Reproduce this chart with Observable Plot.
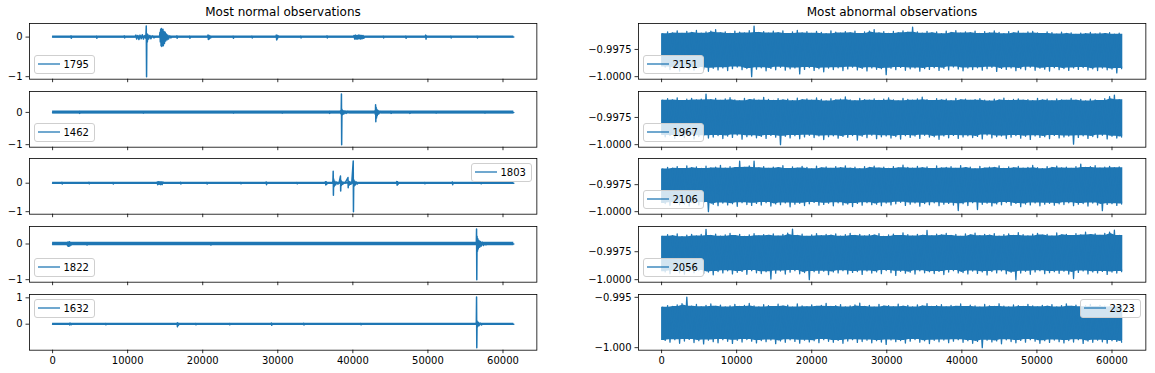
<!DOCTYPE html>
<html><head><meta charset="utf-8">
<script src="https://cdn.jsdelivr.net/npm/d3@7"></script>
<script src="https://cdn.jsdelivr.net/npm/@observablehq/plot@0.6"></script>
<style>
body{margin:0;background:#fff;}
#fig{position:relative;width:1155px;height:373px;font-family:"DejaVu Sans",sans-serif;overflow:hidden;background:#fff}
.title{position:absolute;font-size:12px;line-height:15px;text-align:center;color:#000;white-space:nowrap}
.legend{position:absolute;box-sizing:border-box;height:19px;border:1px solid #cfcfcf;border-radius:3px;background:rgba(255,255,255,0.8);font-size:10px;line-height:17px;color:#000;padding:0 5px 0 28.5px;white-space:nowrap}
.legend svg{position:absolute;left:2px;top:0}
</style></head>
<body><div id="fig"></div>
<script>
// ---------------- data ----------------
const sampleCount = 61440;
const xTicks = [0, 10000, 20000, 30000, 40000, 50000, 60000];
const xTickLabels = ["0", "10000", "20000", "30000", "40000", "50000", "60000"];
const titles = ["Most normal observations", "Most abnormal observations"];

const normalIds = ["1795", "1462", "1803", "1822", "1632"];
const abnormalIds = ["2151", "1967", "2106", "2056", "2323"];

// sparse reading of each normal signal: [sample index, value]
const normal1795 = [
[0,0],[2400,0],[2450,0.03],[2500,-0.03],[2550,0],[5800,0],[5850,0.02],[5900,-0.03],[5950,0],
[9500,0],[9550,0.03],[9600,-0.02],[9650,0],
[11000,0],[11100,0.05],[11200,-0.05],[11350,0.04],[11500,-0.06],[11650,0.05],[11800,-0.04],[11950,0.06],[12100,-0.05],[12300,0.04],[12420,-0.03],
[12480,0.28],[12520,-1.0],[12560,0.09],[12620,-0.12],[12700,0.06],[12800,-0.05],[12950,0.04],[13100,-0.04],[13300,0.03],[13500,-0.02],[13700,0],
[14250,0],[14300,0.12],[14350,-0.12],[14400,0.2],[14450,-0.22],[14500,0.22],[14550,-0.24],[14600,0.18],[14650,-0.2],[14700,0.2],[14750,-0.22],[14850,0.14],[14900,-0.16],[15000,0.12],[15050,-0.1],[15150,0.08],[15250,-0.07],[15350,0.05],[15450,-0.05],[15600,0.03],[15750,-0.02],[15900,0],
[16500,0],[16550,0.03],[16600,-0.03],[16650,0],[18200,0],[18250,0.02],[18300,-0.03],[18350,0],
[20650,0],[20700,0.05],[20750,-0.06],[20800,0.05],[20850,-0.05],[20950,0.03],[21050,-0.02],[21150,0],
[24000,0],[24050,0.02],[24100,-0.03],[24150,0],[26500,0],[26550,0.02],[26600,-0.02],[26650,0],
[29750,0],[29800,0.05],[29850,-0.07],[29900,0.05],[29950,-0.04],[30050,0.03],[30150,0],
[33000,0],[33050,0.02],[33100,-0.02],[33150,0],[36500,0],[36550,0.03],[36600,-0.02],[36650,0],
[40100,0],[40150,0.04],[40250,-0.05],[40350,0.05],[40450,-0.05],[40550,0.04],[40650,-0.05],[40750,0.05],[40850,-0.04],[40950,0.05],[41050,-0.05],[41150,0.04],[41250,-0.04],[41350,0.04],[41450,-0.03],[41550,0],
[44000,0],[44050,0.02],[44100,-0.02],[44150,0],[47000,0],[47050,0.02],[47100,-0.03],[47150,0],
[49650,0],[49700,0.05],[49750,-0.05],[49800,0.03],[49850,0],
[53000,0],[53050,0.02],[53100,-0.02],[53150,0],[56500,0],[56550,0.02],[56600,-0.02],[56650,0],
[61440,0]
];
const normal1462 = [
[0,0],[3500,0],[3550,0.03],[3600,-0.03],[3650,0],[12000,0],[12050,0.02],[12100,-0.02],[12150,0],
[24000,0],[24050,0.02],[24100,-0.02],[24150,0],[30500,0],[30550,0.02],[30600,-0.02],[30650,0],
[36800,0],[36850,0.03],[36900,-0.03],[36950,0],
[38300,0],[38350,0.04],[38400,-0.04],[38450,0.05],[38480,0.57],[38510,-1.0],[38550,0.1],[38600,-0.08],[38700,0.05],[38800,-0.05],[38950,0.04],[39100,-0.03],[39300,0.03],[39500,0],
[42900,0],[42950,0.05],[43000,-0.06],[43030,0.24],[43060,-0.29],[43100,0.16],[43150,-0.17],[43200,0.1],[43250,-0.1],[43350,0.06],[43450,-0.05],[43600,0.03],[43750,0],
[45000,0],[45050,0.03],[45100,-0.03],[45150,0],[47500,0],[47550,0.02],[47600,-0.03],[47650,0],
[51000,0],[51050,0.02],[51100,-0.02],[51150,0],[57500,0],[57550,0.02],[57600,-0.02],[57650,0],
[61440,0]
];
const normal1803 = [
[0,0],[1200,0],[1250,0.03],[1300,-0.03],[1350,0],[4800,0],[4850,0.03],[4900,-0.02],[4950,0],
[8000,0],[8050,0.02],[8100,-0.03],[8150,0],
[13900,0],[13950,0.04],[14000,-0.05],[14100,0.05],[14200,-0.04],[14300,0.05],[14400,-0.05],[14500,0.04],[14600,-0.05],[14700,0.04],[14800,0],
[17000,0],[17050,0.03],[17100,-0.03],[17150,0],[20500,0],[20550,0.02],[20600,-0.03],[20650,0],
[25000,0],[25050,0.02],[25100,-0.02],[25150,0],
[28400,0],[28450,0.04],[28500,-0.05],[28550,0],[32500,0],[32550,0.02],[32600,-0.02],[32650,0],
[36300,0],[36350,0.05],[36400,-0.06],[36450,0.05],[36500,-0.04],[36600,0],
[37300,0],[37350,0.1],[37380,0.42],[37410,-0.42],[37450,0.15],[37500,-0.12],[37600,0.07],[37700,-0.06],[37850,0.04],[38000,-0.03],[38150,0],
[38350,0.25],[38380,-0.27],[38420,0.1],[38480,-0.08],[38550,0.05],[38650,-0.04],[38800,0.03],[38950,0],
[39350,0.2],[39380,-0.16],[39420,0.08],[39500,-0.07],[39600,0.05],[39700,-0.04],[39850,0],
[40050,0.78],[40080,-1.0],[40120,0.12],[40170,-0.1],[40250,0.07],[40350,-0.06],[40450,0.04],[40600,-0.03],[40750,0.02],[40900,0],
[45800,0],[45850,0.06],[45900,-0.07],[45950,0.05],[46000,-0.04],[46100,0],
[49500,0],[49550,0.02],[49600,-0.02],[49650,0],
[53200,0],[53250,0.04],[53300,-0.05],[53350,0],[57000,0],[57050,0.02],[57100,-0.02],[57150,0],
[61440,0]
];
const normal1822 = [
[0,0],[1900,0],[1950,0.04],[2000,-0.05],[2050,0.05],[2100,-0.06],[2150,0.05],[2200,-0.06],[2250,0.06],[2300,-0.05],[2350,0.04],[2450,-0.03],[2550,0],
[4500,0],[4550,0.02],[4600,-0.03],[4650,0],[21000,0],[21050,0.03],[21100,-0.03],[21150,0],
[56400,0],[56450,0.05],[56480,0.42],[56510,-1.0],[56550,0.22],[56600,-0.2],[56650,0.15],[56700,-0.14],[56800,0.1],[56900,-0.09],[57000,0.07],[57100,-0.06],[57250,0.05],[57400,-0.04],[57550,0.03],[57700,-0.02],[57900,0],
[61440,0]
];
const normal1632 = [
[0,0],[2200,0],[2250,0.03],[2300,-0.03],[2400,0.03],[2500,-0.02],[2600,0],
[7000,0],[7050,0.02],[7100,-0.02],[7150,0],
[16550,0],[16600,0.04],[16630,-0.1],[16680,0.05],[16750,-0.04],[16850,0],
[19000,0],[19050,0.02],[19100,-0.02],[19150,0],[23500,0],[23550,0.02],[23600,-0.02],[23650,0],
[29100,0],[29150,0.04],[29200,-0.04],[29250,0],[33400,0],[33450,0.03],[33500,-0.03],[33550,0],
[41000,0],[41050,0.02],[41100,-0.02],[41150,0],
[56400,0],[56450,0.08],[56480,1.03],[56510,-0.89],[56550,0.12],[56600,-0.1],[56700,0.07],[56800,-0.06],[56950,0.04],[57100,-0.03],[57300,0],
[61440,0]
];
const normalSeries = [normal1795, normal1462, normal1803, normal1822, normal1632];
const normalNoise = [0.025, 0.046, 0.035, 0.046, 0.038];
const normalYTicks = [[-1, 0], [-1, 0], [-1, 0], [-1, 0], [0, 1]];
const normalYTickLabels = [["−1", "0"], ["−1", "0"], ["−1", "0"], ["−1", "0"], ["0", "1"]];

// abnormal signals: per-bin upper and lower extremes (96 bins over the samples)
const abnormalHi2151 = [
-0.99606,-0.99588,-0.99598,-0.99579,-0.99602,-0.99585,-0.99594,-0.99576,-0.99601,-0.99590,-0.99583,-0.99569,
-0.99597,-0.99588,-0.99603,-0.99581,-0.99592,-0.99599,-0.99578,-0.99535,-0.99594,-0.99586,-0.99600,-0.99583,
-0.99596,-0.99580,-0.99604,-0.99589,-0.99575,-0.99598,-0.99587,-0.99602,-0.99584,-0.99593,-0.99606,-0.99579,
-0.99591,-0.99600,-0.99586,-0.99597,-0.99583,-0.99604,-0.99590,-0.99581,-0.99568,-0.99598,-0.99587,-0.99603,
-0.99585,-0.99596,-0.99579,-0.99592,-0.99545,-0.99589,-0.99601,-0.99584,-0.99597,-0.99588,-0.99605,-0.99582,
-0.99594,-0.99578,-0.99600,-0.99589,-0.99596,-0.99583,-0.99603,-0.99587,-0.99599,-0.99580,-0.99593,-0.99606,
-0.99586,-0.99597,-0.99581,-0.99602,-0.99590,-0.99585,-0.99598,-0.99604,-0.99588,-0.99595,-0.99609,-0.99592,
-0.99603,-0.99597,-0.99611,-0.99600,-0.99606,-0.99594,-0.99608,-0.99599,-0.99604,-0.99596,-0.99610,-0.99601
];
const abnormalLo2151 = [
-0.99912,-0.99935,-0.99921,-0.99948,-0.99917,-0.99929,-0.99940,-0.99915,-0.99932,-0.99951,-0.99923,-0.99938,
-0.99919,-0.99944,-0.99927,-0.99912,-0.99936,-0.99925,-1.00000,-0.99931,-0.99918,-0.99946,-0.99924,-0.99937,
-0.99914,-0.99940,-0.99928,-0.99920,-0.99975,-0.99933,-0.99916,-0.99942,-0.99926,-0.99955,-0.99921,-0.99935,
-0.99918,-0.99944,-0.99929,-0.99913,-0.99938,-0.99924,-0.99947,-0.99919,-0.99932,-0.99927,-0.99982,-0.99922,
-0.99936,-0.99915,-0.99941,-0.99928,-0.99920,-0.99949,-0.99925,-0.99934,-0.99917,-0.99943,-0.99923,-0.99938,
-0.99911,-0.99930,-0.99946,-0.99921,-0.99935,-0.99918,-0.99940,-0.99927,-0.99914,-0.99952,-0.99924,-0.99933,
-0.99919,-0.99945,-0.99926,-0.99937,-0.99913,-0.99941,-0.99922,-0.99931,-0.99948,-0.99917,-0.99936,-0.99925,
-0.99942,-0.99920,-0.99934,-0.99916,-0.99939,-0.99928,-0.99944,-0.99921,-0.99937,-0.99930,-0.99965,-0.99926
];
const abnormalHi1967 = [
-0.99592,-0.99578,-0.99589,-0.99570,-0.99595,-0.99583,-0.99574,-0.99590,-0.99581,-0.99535,-0.99587,-0.99576,
-0.99593,-0.99580,-0.99569,-0.99588,-0.99597,-0.99575,-0.99586,-0.99579,-0.99591,-0.99566,-0.99584,-0.99594,
-0.99577,-0.99589,-0.99582,-0.99596,-0.99573,-0.99587,-0.99580,-0.99592,-0.99571,-0.99585,-0.99598,-0.99578,
-0.99590,-0.99583,-0.99562,-0.99588,-0.99596,-0.99575,-0.99586,-0.99591,-0.99579,-0.99594,-0.99582,-0.99570,
-0.99589,-0.99597,-0.99576,-0.99585,-0.99592,-0.99580,-0.99564,-0.99587,-0.99595,-0.99578,-0.99590,-0.99583,
-0.99596,-0.99574,-0.99588,-0.99581,-0.99593,-0.99586,-0.99577,-0.99591,-0.99598,-0.99582,-0.99589,-0.99572,
-0.99594,-0.99585,-0.99579,-0.99592,-0.99587,-0.99596,-0.99575,-0.99590,-0.99583,-0.99597,-0.99580,-0.99588,
-0.99593,-0.99576,-0.99591,-0.99584,-0.99599,-0.99581,-0.99589,-0.99595,-0.99578,-0.99560,-0.99545,-0.99587
];
const abnormalLo1967 = [
-0.99928,-0.99915,-0.99941,-0.99922,-0.99936,-0.99913,-0.99947,-0.99925,-0.99918,-0.99939,-0.99930,-0.99916,
-0.99944,-0.99921,-0.99933,-0.99912,-0.99950,-0.99926,-0.99919,-0.99937,-0.99924,-0.99942,-0.99915,-0.99931,
-1.00000,-0.99923,-0.99938,-0.99917,-0.99946,-0.99929,-0.99914,-0.99935,-0.99920,-0.99953,-0.99927,-0.99918,
-0.99940,-0.99924,-0.99932,-0.99916,-0.99958,-0.99922,-0.99936,-0.99913,-0.99945,-0.99928,-0.99919,-0.99939,
-0.99925,-0.99948,-0.99917,-0.99933,-0.99921,-0.99942,-0.99914,-0.99930,-0.99926,-0.99951,-0.99920,-0.99937,
-0.99915,-0.99943,-0.99929,-0.99918,-0.99935,-0.99924,-0.99947,-0.99912,-0.99938,-0.99927,-0.99920,-0.99944,
-0.99931,-0.99916,-0.99940,-0.99923,-0.99952,-0.99919,-0.99934,-0.99926,-0.99945,-0.99915,-0.99938,-0.99929,
-0.99921,-0.99995,-0.99933,-0.99918,-0.99942,-0.99925,-0.99936,-0.99914,-0.99947,-0.99922,-0.99939,-0.99930
];
const abnormalHi2106 = [
-0.99605,-0.99590,-0.99598,-0.99582,-0.99601,-0.99576,-0.99593,-0.99586,-0.99600,-0.99579,-0.99595,-0.99588,
-0.99571,-0.99597,-0.99584,-0.99592,-0.99533,-0.99589,-0.99577,-0.99531,-0.99594,-0.99583,-0.99599,-0.99587,
-0.99592,-0.99574,-0.99601,-0.99585,-0.99596,-0.99580,-0.99590,-0.99603,-0.99578,-0.99594,-0.99586,-0.99599,
-0.99582,-0.99593,-0.99575,-0.99597,-0.99588,-0.99602,-0.99584,-0.99591,-0.99579,-0.99596,-0.99587,-0.99600,
-0.99583,-0.99594,-0.99569,-0.99590,-0.99598,-0.99581,-0.99593,-0.99586,-0.99601,-0.99577,-0.99595,-0.99589,
-0.99584,-0.99599,-0.99573,-0.99592,-0.99587,-0.99603,-0.99580,-0.99596,-0.99588,-0.99591,-0.99576,-0.99600,
-0.99585,-0.99594,-0.99581,-0.99597,-0.99589,-0.99572,-0.99593,-0.99602,-0.99583,-0.99590,-0.99578,-0.99595,
-0.99587,-0.99599,-0.99582,-0.99560,-0.99591,-0.99584,-0.99574,-0.99596,-0.99588,-0.99580,-0.99593,-0.99586
];
const abnormalLo2106 = [
-0.99925,-0.99941,-0.99918,-0.99936,-0.99929,-0.99947,-0.99921,-0.99938,-0.99915,-1.00000,-0.99932,-0.99944,
-0.99920,-0.99937,-0.99926,-0.99950,-0.99917,-0.99934,-0.99942,-0.99923,-0.99939,-0.99916,-0.99948,-0.99928,
-0.99935,-0.99919,-0.99955,-0.99931,-0.99922,-0.99943,-0.99927,-0.99914,-0.99940,-0.99933,-0.99921,-0.99946,
-0.99918,-0.99937,-0.99929,-0.99952,-0.99924,-0.99940,-0.99917,-0.99935,-0.99930,-0.99945,-0.99920,-0.99938,
-0.99927,-0.99913,-0.99942,-0.99931,-0.99919,-0.99949,-0.99925,-0.99936,-0.99918,-0.99944,-0.99930,-0.99923,
-0.99939,-0.99990,-0.99926,-0.99943,-0.99917,-0.99980,-0.99932,-0.99921,-0.99947,-0.99928,-0.99936,-0.99915,
-0.99941,-0.99924,-0.99953,-0.99929,-0.99937,-0.99919,-0.99946,-0.99931,-0.99922,-0.99940,-0.99927,-0.99934,
-0.99918,-0.99944,-0.99930,-0.99925,-0.99948,-0.99920,-0.99938,-0.99991,-0.99933,-0.99926,-0.99942,-0.99929
];
const abnormalHi2056 = [
-0.99612,-0.99598,-0.99607,-0.99590,-0.99615,-0.99601,-0.99594,-0.99609,-0.99596,-0.99550,-0.99604,-0.99592,
-0.99611,-0.99599,-0.99587,-0.99606,-0.99595,-0.99613,-0.99600,-0.99589,-0.99608,-0.99597,-0.99603,-0.99591,
-0.99610,-0.99596,-0.99583,-0.99547,-0.99605,-0.99593,-0.99612,-0.99599,-0.99588,-0.99607,-0.99596,-0.99602,
-0.99590,-0.99611,-0.99598,-0.99586,-0.99604,-0.99594,-0.99609,-0.99597,-0.99601,-0.99589,-0.99613,-0.99600,
-0.99592,-0.99606,-0.99581,-0.99598,-0.99610,-0.99595,-0.99603,-0.99560,-0.99608,-0.99593,-0.99600,-0.99587,
-0.99605,-0.99596,-0.99612,-0.99590,-0.99599,-0.99584,-0.99607,-0.99594,-0.99602,-0.99588,-0.99611,-0.99597,
-0.99591,-0.99604,-0.99579,-0.99598,-0.99609,-0.99593,-0.99585,-0.99601,-0.99596,-0.99610,-0.99582,-0.99599,
-0.99594,-0.99606,-0.99588,-0.99600,-0.99576,-0.99597,-0.99590,-0.99603,-0.99586,-0.99574,-0.99558,-0.99605
];
const abnormalLo2056 = [
-0.99930,-0.99946,-0.99922,-0.99939,-0.99951,-0.99925,-0.99937,-0.99918,-0.99944,-0.99932,-0.99956,-0.99927,
-0.99940,-0.99921,-0.99948,-0.99934,-0.99926,-0.99952,-0.99919,-0.99938,-0.99945,-0.99929,-0.99994,-0.99942,
-0.99923,-0.99950,-0.99933,-0.99919,-0.99947,-0.99936,-1.00000,-0.99928,-0.99943,-0.99924,-0.99955,-0.99931,
-0.99939,-0.99920,-0.99948,-0.99935,-0.99927,-0.99953,-0.99922,-0.99941,-0.99930,-0.99946,-0.99918,-0.99937,
-0.99962,-0.99925,-0.99942,-0.99933,-0.99950,-0.99921,-0.99938,-0.99929,-0.99945,-0.99926,-0.99954,-0.99932,
-0.99919,-0.99940,-0.99936,-0.99949,-0.99923,-0.99944,-0.99930,-0.99958,-0.99927,-0.99939,-0.99921,-0.99947,
-0.99934,-1.00000,-0.99941,-0.99925,-0.99952,-0.99931,-0.99920,-0.99946,-0.99937,-0.99928,-0.99943,-0.99924,
-0.99950,-0.99990,-0.99935,-0.99922,-0.99948,-0.99930,-0.99939,-0.99926,-0.99953,-0.99932,-0.99941,-0.99928
];
const abnormalHi2323 = [
-0.99598,-0.99582,-0.99591,-0.99575,-0.99563,-0.99497,-0.99588,-0.99571,-0.99594,-0.99580,-0.99566,-0.99589,
-0.99577,-0.99595,-0.99584,-0.99569,-0.99590,-0.99579,-0.99561,-0.99586,-0.99596,-0.99573,-0.99583,-0.99592,
-0.99568,-0.99587,-0.99578,-0.99597,-0.99565,-0.99585,-0.99593,-0.99574,-0.99589,-0.99581,-0.99560,-0.99590,
-0.99583,-0.99572,-0.99595,-0.99586,-0.99576,-0.99558,-0.99591,-0.99580,-0.99597,-0.99570,-0.99587,-0.99582,
-0.99594,-0.99567,-0.99588,-0.99579,-0.99596,-0.99575,-0.99585,-0.99562,-0.99590,-0.99583,-0.99573,-0.99594,
-0.99581,-0.99589,-0.99566,-0.99592,-0.99578,-0.99586,-0.99597,-0.99571,-0.99584,-0.99591,-0.99564,-0.99587,
-0.99595,-0.99576,-0.99583,-0.99590,-0.99569,-0.99585,-0.99594,-0.99580,-0.99588,-0.99572,-0.99596,-0.99582,
-0.99565,-0.99589,-0.99577,-0.99593,-0.99584,-0.99570,-0.99591,-0.99579,-0.99587,-0.99595,-0.99574,-0.99586
];
const abnormalLo2323 = [
-0.99928,-0.99945,-0.99921,-0.99956,-0.99934,-0.99918,-0.99949,-0.99930,-0.99962,-0.99925,-0.99940,-0.99952,
-0.99920,-0.99937,-0.99958,-0.99927,-0.99944,-0.99919,-0.99935,-0.99953,-0.99929,-0.99941,-0.99924,-0.99960,
-0.99933,-0.99947,-0.99922,-0.99938,-0.99955,-0.99926,-0.99943,-0.99931,-0.99950,-0.99920,-0.99937,-0.99946,
-0.99928,-0.99957,-0.99934,-0.99921,-0.99948,-0.99939,-0.99925,-0.99952,-0.99930,-0.99944,-0.99967,-0.99923,
-0.99940,-0.99929,-0.99954,-0.99936,-0.99919,-0.99946,-0.99932,-0.99959,-0.99927,-0.99942,-0.99924,-0.99950,
-0.99935,-0.99921,-0.99947,-0.99930,-0.99956,-0.99938,-1.00000,-0.99926,-0.99943,-0.99933,-0.99961,-0.99922,
-0.99939,-0.99951,-0.99928,-0.99945,-0.99920,-0.99936,-0.99957,-0.99931,-0.99948,-0.99924,-0.99940,-0.99953,
-0.99929,-0.99944,-0.99921,-0.99958,-0.99934,-0.99947,-0.99926,-0.99942,-0.99955,-0.99930,-0.99938,-0.99946
];
const abnormalHi = [abnormalHi2151, abnormalHi1967, abnormalHi2106, abnormalHi2056, abnormalHi2323];
const abnormalLo = [abnormalLo2151, abnormalLo1967, abnormalLo2106, abnormalLo2056, abnormalLo2323];
const abnormalYTicks = [[-1, -0.9975], [-1, -0.9975], [-1, -0.9975], [-1, -0.9975], [-1, -0.995]];
const abnormalYTickLabels = [["−1.0000", "−0.9975"], ["−1.0000", "−0.9975"], ["−1.0000", "−0.9975"], ["−1.0000", "−0.9975"], ["−1.000", "−0.995"]];

// ---------------- layout ----------------
const BLUE = "#1f77b4";
const W = 507.4, H = 55.7;
const colLeft = [29.3, 638.3];
const rowTop = [23.3, 90.9, 158.4, 226.0, 293.6];
const normalLegendLoc = ["lower left", "lower left", "upper right", "lower left", "upper left"];
const abnormalLegendLoc = ["lower left", "lower left", "lower left", "lower left", "upper right"];

const fig = document.getElementById("fig");
const pad = (lo, hi) => [lo - 0.05 * (hi - lo), hi + 0.05 * (hi - lo)];
const xDomain = pad(0, sampleCount);

function addPanel(left, top, isBottom, yDomain, yTicks, yLabels, marks) {
  const ml = 70, mr = 6, mt = 6, mb = 26;
  const labelOf = new Map(yTicks.map((t, i) => [t, yLabels[i]]));
  const xLabelOf = new Map(xTicks.map((t, i) => [t, xTickLabels[i]]));
  const svg = Plot.plot({
    width: W + ml + mr, height: H + mt + mb,
    marginLeft: ml, marginRight: mr, marginTop: mt, marginBottom: mb,
    style: {fontFamily: "DejaVu Sans", fontSize: "10px", color: "#000", background: "transparent", overflow: "visible"},
    x: {domain: xDomain},
    y: {domain: yDomain},
    marks: [
      ...marks,
      Plot.frame({stroke: "#000", strokeWidth: 0.8}),
      Plot.axisY({ticks: yTicks, tickFormat: d => labelOf.get(d), tickSize: 3.5, tickPadding: 3.5, strokeWidth: 0.8, label: null, fontSize: 10}),
      Plot.axisX({ticks: xTicks, tickFormat: isBottom ? (d => xLabelOf.get(d)) : (() => ""), tickSize: 3.5, tickPadding: 3.5, strokeWidth: 0.8, label: null, fontSize: 10})
    ]
  });
  svg.style.position = "absolute";
  svg.style.left = (left - ml) + "px";
  svg.style.top = (top - mt) + "px";
  fig.appendChild(svg);
}

function addLegend(label, loc, left, top) {
  const d = document.createElement("div");
  d.className = "legend";
  d.innerHTML = '<svg width="24" height="17"><line x1="1" x2="23" y1="8" y2="8" stroke="' + BLUE + '" stroke-width="1.5" stroke-opacity="0.85"/></svg>' + label;
  fig.appendChild(d);
  const w = d.getBoundingClientRect().width;
  const hgt = 19, gap = 5;
  const x = loc.endsWith("left") ? left + gap : left + W - gap - w;
  const y = loc.startsWith("lower") ? top + H - gap - hgt : top + gap;
  d.style.left = Math.round(x) + "px";
  d.style.top = Math.round(y) + "px";
}

// titles
titles.forEach((t, c) => {
  const d = document.createElement("div");
  d.className = "title";
  d.textContent = t;
  d.style.left = colLeft[c] + "px";
  d.style.width = W + "px";
  d.style.top = "5px";
  fig.appendChild(d);
});

// normal column
normalSeries.forEach((series, r) => {
  const ys = series.map(p => p[1]);
  const yDomain = pad(d3.min(ys), d3.max(ys));
  const n = normalNoise[r];
  addPanel(colLeft[0], rowTop[r], r === 4, yDomain, normalYTicks[r], normalYTickLabels[r], [
    Plot.areaY([0, sampleCount], {x: d => d, y1: () => -n, y2: () => n, fill: BLUE}),
    Plot.line(series, {x: d => d[0], y: d => d[1], stroke: BLUE, strokeWidth: 1.5})
  ]);
});

// abnormal column: dense body (lowest neighbouring extremes) plus the signal swinging between its extremes
abnormalHi.forEach((hi, r) => {
  const lo = abnormalLo[r];
  const n = hi.length;
  const step = sampleCount / n;
  const body = hi.map((h, i) => ({
    x: (i + 0.5) * step,
    top: d3.min(hi.slice(Math.max(0, i - 1), i + 2)),
    bottom: d3.max(lo.slice(Math.max(0, i - 1), i + 2))
  }));
  body.unshift({x: 0, top: body[0].top, bottom: body[0].bottom});
  body.push({x: sampleCount, top: body[n - 1].top, bottom: body[n - 1].bottom});
  const pts = [];
  hi.forEach((h, i) => {
    pts.push([i * step + step * 0.25, h]);
    pts.push([i * step + step * 0.75, lo[i]]);
  });
  const yDomain = pad(d3.min(lo), d3.max(hi));
  addPanel(colLeft[1], rowTop[r], r === 4, yDomain, abnormalYTicks[r], abnormalYTickLabels[r], [
    Plot.areaY(body, {x: "x", y1: "bottom", y2: "top", fill: BLUE}),
    Plot.line(pts, {x: d => d[0], y: d => d[1], stroke: BLUE, strokeWidth: 1.3})
  ]);
});

// legends on top
normalIds.forEach((id, r) => addLegend(id, normalLegendLoc[r], colLeft[0], rowTop[r]));
abnormalIds.forEach((id, r) => addLegend(id, abnormalLegendLoc[r], colLeft[1], rowTop[r]));
</script>
</body></html>
